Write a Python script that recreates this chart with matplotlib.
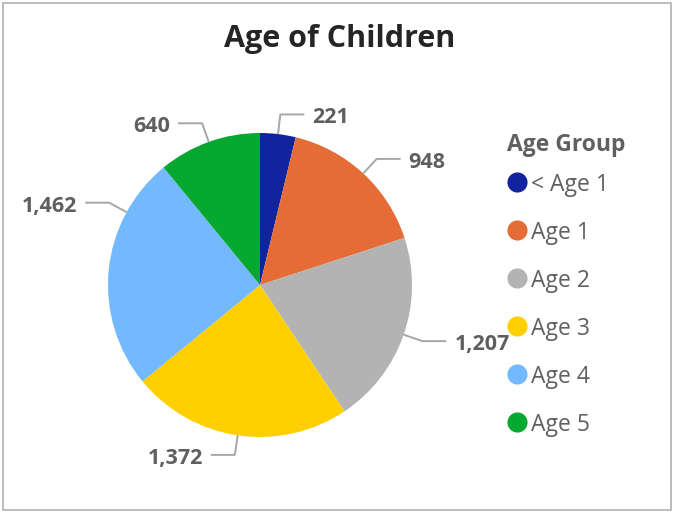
import numpy as np
import matplotlib
matplotlib.use("Agg")
import matplotlib.pyplot as plt
from matplotlib.lines import Line2D
from matplotlib.patches import Rectangle

plt.rcParams["font.family"] = ["Open Sans", "DejaVu Sans"]

# %% data
age_groups = ["< Age 1", "Age 1", "Age 2", "Age 3", "Age 4", "Age 5"]
children = [221, 948, 1207, 1372, 1462, 640]
colors = ["#12239E", "#E66C37", "#B3B3B3", "#FFCF00", "#73B9FF", "#07A830"]

# label nudges (degrees clockwise) used by the renderer to avoid crowding
label_shift = [0, 0, 0, 0, 23, 0]

W, H = 673, 512
fig = plt.figure(figsize=(W / 100, H / 100), dpi=100)

# pie axes: centre at (260, 285) px, radius 152 px
R = 152
cx, cy = 260, H - 285
half = 200
ax = fig.add_axes([(cx - half) / W, (cy - half) / H, 2 * half / W, 2 * half / H])
lim = half / R

wedges, _ = ax.pie(children, colors=colors, startangle=90, counterclock=False,
                   radius=1.0, wedgeprops=dict(linewidth=0))
ax.set_xlim(-lim, lim)
ax.set_ylim(-lim, lim)
ax.set_aspect("equal")
ax.axis("off")

# leader lines + data labels
line_col = "#A6A6A6"
label_col = "#5F5F5F"
seg = 24 / R
gap = 8 / R
for w, val, shift in zip(wedges, children, label_shift):
    ang = np.deg2rad((w.theta1 + w.theta2) / 2 - shift)
    x0, y0 = 1.0 * np.cos(ang), 1.0 * np.sin(ang)
    x1, y1 = 1.13 * np.cos(ang), 1.13 * np.sin(ang)
    side = 1 if x1 >= 0 else -1
    x2 = x1 + side * seg
    ax.plot([x0, x1, x2], [y0, y1, y1], color=line_col, lw=1.4,
            solid_capstyle="butt", clip_on=False)
    ax.text(x2 + side * gap, y1 - 9 / R, f"{val:,}",
            ha="left" if side > 0 else "right", va="baseline",
            fontsize=15.5, fontweight="bold", color=label_col, clip_on=False)

# title
fig.text(340 / W, 1 - 47 / H, "Age of Children", ha="center", va="baseline",
         fontsize=22, fontweight="bold", color="#252525")

# legend
fig.text(507 / W, 1 - 151 / H, "Age Group", ha="left", va="baseline",
         fontsize=16.5, fontweight="bold", color="#606060")
for i, (name, c) in enumerate(zip(age_groups, colors)):
    ym = 182 + 48 * i
    fig.add_artist(Line2D([517 / W], [1 - ym / H], marker="o", markersize=14.5,
                          markerfacecolor=c, markeredgewidth=0, linestyle="none",
                          transform=fig.transFigure))
    fig.text(531 / W, 1 - (ym + 9) / H, name, ha="left", va="baseline",
             fontsize=16.5, color="#606060")

# outer border
fig.add_artist(Rectangle((2.5 / W, 2.5 / H), (671 - 2.5) / W, (509.5 - 2.5) / H,
                         transform=fig.transFigure, fill=False,
                         edgecolor="#B0B0B0", linewidth=1.2))

fig.savefig("out.png", dpi=100)
